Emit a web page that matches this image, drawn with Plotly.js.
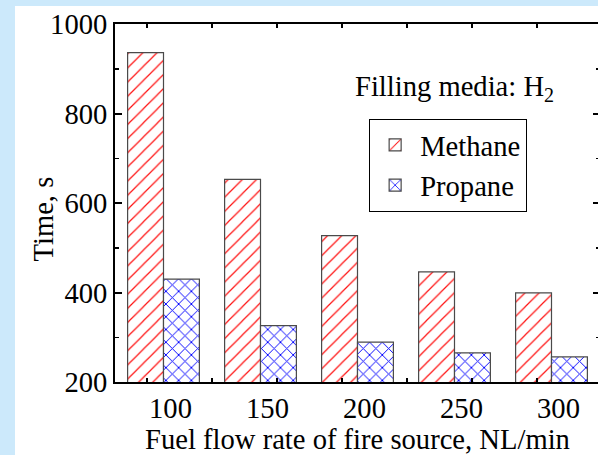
<!DOCTYPE html>
<html>
<head>
<meta charset="utf-8">
<script src="https://cdn.plot.ly/plotly-3.0.1.min.js"></script>
<style>
html, body { margin:0; padding:0; width:598px; height:455px; overflow:hidden; background:#cce9fb; }
#chart { position:absolute; left:15px; top:6px; width:587px; height:449px; }
</style>
</head>
<body>
<div id="chart"></div>
<script>
const categories = ['100', '150', '200', '250', '300'];
const methane = [936, 653, 527, 446, 399];
const propane = [430, 326, 289, 265, 256];
const seriesNames = ['Methane', 'Propane'];
const yTicks = [200, 400, 600, 800, 1000];
const yTitle = 'Time, s';
const xTitle = 'Fuel flow rate of fire source, NL/min';

const font = 'Liberation Serif, Times New Roman, serif';
const fs = 28.6;

const traces = [
  {
    type: 'bar', name: seriesNames[0], x: categories, y: methane,
    marker: {
      color: 'white',
      pattern: { shape: '/', fgcolor: '#ff1010', bgcolor: 'white', size: 10, solidity: 0.12, fillmode: 'replace' },
      line: { color: '#4a4a4a', width: 1.2 }
    }
  },
  {
    type: 'bar', name: seriesNames[1], x: categories, y: propane,
    marker: {
      color: 'white',
      pattern: { shape: 'x', fgcolor: '#0000ff', bgcolor: 'white', size: 9, solidity: 0.2, fillmode: 'replace' },
      line: { color: '#4a4a4a', width: 1.2 }
    }
  },
  { type: 'scatter', mode: 'markers', x: [null], y: [null], xaxis: 'x2', yaxis: 'y', showlegend: false, hoverinfo: 'skip' }
];

const layout = {
  width: 587, height: 449,
  margin: { l: 100, r: 2, t: 18, b: 73 },
  paper_bgcolor: 'white', plot_bgcolor: 'white',
  font: { family: font, size: fs, color: 'black' },
  barmode: 'group', bargap: 0.26, bargroupgap: 0,
  showlegend: true,
  legend: {
    x: 0.524, y: 0.735, xanchor: 'left', yanchor: 'top',
    bgcolor: 'white', bordercolor: 'black', borderwidth: 1, itemwidth: 40,
    font: { family: font, size: fs }, tracegroupgap: 0
  },
  xaxis: {
    type: 'category', range: [-0.5, 4.5],
    showline: true, linecolor: 'black', linewidth: 2, mirror: true,
    ticks: '', showgrid: false, zeroline: false,
    tickfont: { family: font, size: fs }, ticklabelshift: 7,
    title: { text: xTitle, font: { family: font, size: fs }, standoff: 0 }
  },
  xaxis2: {
    overlaying: 'x', anchor: 'y', side: 'bottom', range: [-0.4923, 6.969],
    tick0: 0, dtick: 1, ticks: 'inside', ticklen: 4, tickwidth: 1.5, tickcolor: 'black',
    mirror: 'ticks', showline: false, showticklabels: false, showgrid: false, zeroline: false
  },
  yaxis: {
    range: [200, 1000], tickvals: yTicks,
    showline: true, linecolor: 'black', linewidth: 2, mirror: 'ticks',
    ticks: 'inside', ticklen: 7, tickwidth: 2, tickcolor: 'black',
    minor: { dtick: 100, ticks: 'inside', ticklen: 4, tickwidth: 1.5, tickcolor: 'black' },
    showgrid: false, zeroline: false,
    tickfont: { family: font, size: fs }
  },
  annotations: [
    { xref: 'paper', yref: 'paper', x: 0.70, y: 0.821, xanchor: 'center', yanchor: 'middle', showarrow: false,
      text: 'Filling media: H<sub>2</sub>', font: { family: font, size: fs } },
    { xref: 'paper', yref: 'paper', x: 0, y: 0.454, xshift: -72, xanchor: 'center', yanchor: 'middle',
      showarrow: false, textangle: -90, text: yTitle, font: { family: font, size: fs } }
  ]
};

Plotly.newPlot('chart', traces, layout, { displayModeBar: false, staticPlot: true });
</script>
</body>
</html>
